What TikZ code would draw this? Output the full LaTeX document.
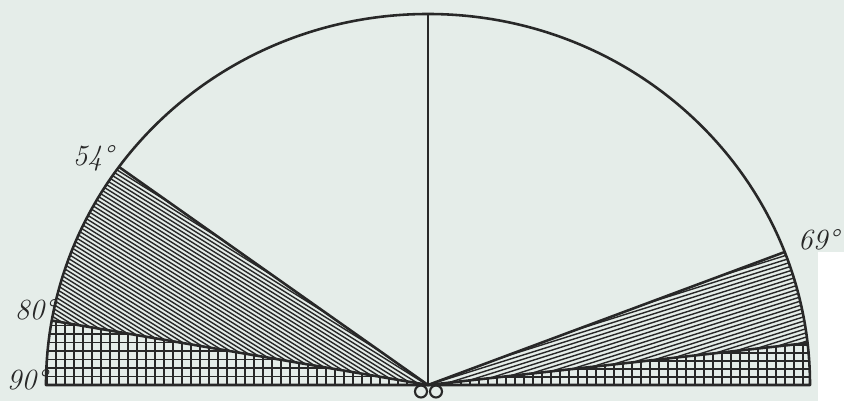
\documentclass[tikz,border=0pt]{standalone}
\usepackage{tikz}
\usetikzlibrary{positioning}
\definecolor{paper}{RGB}{229,237,233}
\definecolor{ink}{RGB}{40,40,40}

\begin{document}
\begin{tikzpicture}[
      x=0.03cm, y=0.03cm,
      outline/.style={draw=ink, line width=2.2pt, line join=round},
      hatchline/.style={draw=ink, line width=1.2pt},
      gridline/.style={draw=ink, line width=1.4pt},
      anglelabel/.style={font=\fontsize{25}{25}\selectfont\itshape, text=ink, inner sep=0pt}
    ]
    % paper
    \fill[paper] (-428,-16) rectangle (416,385);
    \fill[white] (390,-16) rectangle (416,133);
    \useasboundingbox (-428,-16) rectangle (416,385);

    % points on the rim (zenith angles)
    \coordinate (O) at (0,0);
    \coordinate (top) at (90:382 and 371);
    \coordinate (a54) at (144:382 and 371);
    \coordinate (a80) at (170:382 and 371);
    \coordinate (l90) at (180:382 and 371);
    \coordinate (a69) at (21:382 and 371);
    \coordinate (a84) at (6.5:382 and 371);
    \coordinate (r90) at (0:382 and 371);

    % hatched sectors
    \begin{scope}
      \clip (O) -- (a54) arc[start angle=144, end angle=170, x radius=382, y radius=371] -- cycle;
      \begin{scope}[rotate=-32]
        \foreach \y in {-400,-396.4,...,400}
          \draw[hatchline] (-500,\y) -- (500,\y);
      \end{scope}
    \end{scope}
    \begin{scope}
      \clip (O) -- (a84) arc[start angle=6.5, end angle=21, x radius=382, y radius=371] -- cycle;
      \begin{scope}[rotate=17.5]
        \foreach \y in {-200,-196,...,200}
          \draw[hatchline] (-100,\y) -- (500,\y);
      \end{scope}
    \end{scope}

    % cross-hatched sectors
    \begin{scope}
      \clip (O) -- (a80) arc[start angle=170, end angle=180, x radius=382, y radius=371] -- cycle;
      \foreach \y in {0,8.5,...,70}
        \draw[gridline] (-390,\y) -- (0,\y);
      \foreach \x in {-381,-372,...,0}
        \draw[gridline] (\x,0) -- (\x,70);
    \end{scope}
    \begin{scope}
      \clip (O) -- (r90) arc[start angle=0, end angle=6.5, x radius=382, y radius=371] -- cycle;
      \foreach \y in {0,8,...,48}
        \draw[gridline] (0,\y) -- (390,\y);
      \foreach \x in {384,375,...,0}
        \draw[gridline] (\x,0) -- (\x,48);
    \end{scope}

    % outline and rays
    \draw[outline] (l90) arc[start angle=180, end angle=0, x radius=382, y radius=371] -- cycle;
    \draw[outline] (O) -- (top);
    \draw[outline] (a54) -- (O) -- (a69);
    \draw[outline] (a80) -- (O) -- (a84);
    \draw[ink, line width=1.8pt] (-7,-6.5) circle[radius=6];
    \draw[ink, line width=1.8pt] (8,-6.5) circle[radius=6];

    % labels
    \node[anglelabel] (l54) at (-335,227) {54\textdegree};
    \node[anglelabel] (l80) at (-393,75) {80\textdegree};
    \node[anglelabel] (l90lab) at (-401,5) {90\textdegree};
    \node[anglelabel, anchor=west] (l69) at (370,145) {69\textdegree};
  \end{tikzpicture}
\end{document}
